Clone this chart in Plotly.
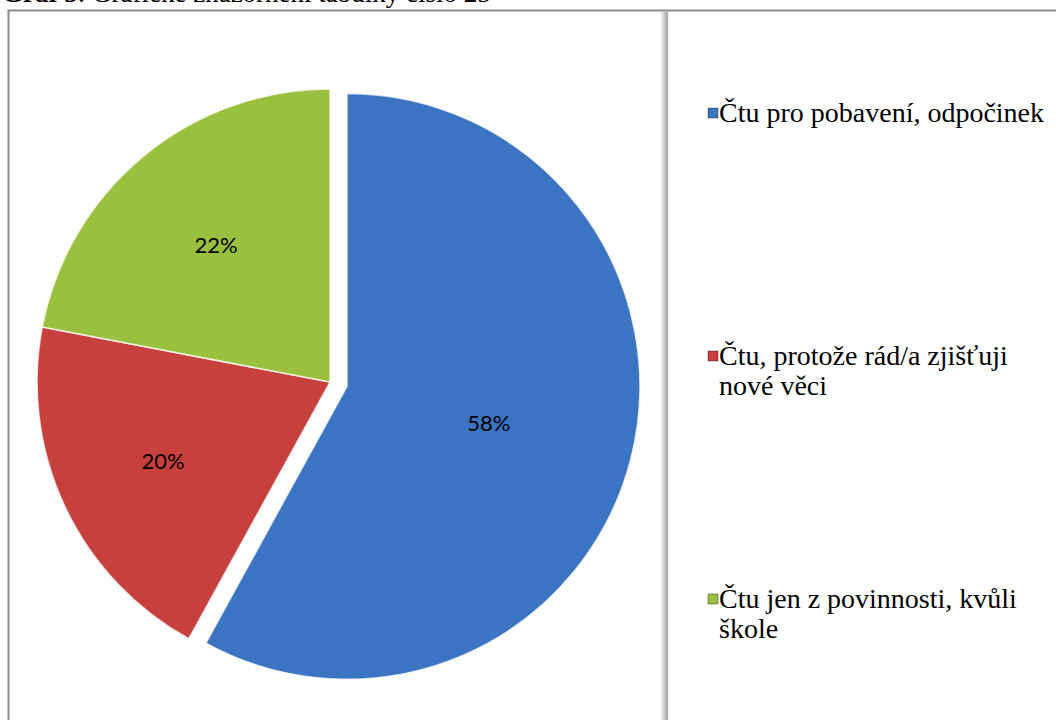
import plotly.graph_objects as go

labels = ["Čtu pro pobavení, odpočinek",
          "Čtu, protože rád/a zjišťuji<br>nové věci",
          "Čtu jen z povinnosti, kvůli<br>škole"]
values = [58, 20, 22]
colors = ["#3A74C2", "#C8403D", "#9BC03F"]
pulls = [0.06, 0, 0]

W, H = 1056, 720
SERIF = "Times New Roman, Liberation Serif, serif"

fig = go.Figure()

fig.add_trace(
    go.Pie(
        labels=labels,
        values=values,
        pull=pulls,
        sort=False,
        direction="clockwise",
        rotation=0,
        marker=dict(colors=colors, line=dict(color="rgba(255,255,255,0.75)", width=1.5)),
        texttemplate="%{percent:.0%}",
        textposition="inside",
        insidetextorientation="horizontal",
        textfont=dict(family="Lato", size=22, color="black"),
        domain=dict(x=[19.5 / W, 640.5 / W], y=[1 - 692.6 / H, 1 - 71.4 / H]),
        showlegend=False,
        hoverinfo="label+percent",
    )
)

# frame and separator shadow
fig.add_shape(type="rect", xref="paper", yref="paper",
              x0=8.5 / W, x1=1.01, y0=-0.01, y1=1 - 10.5 / H,
              line=dict(color="#8c8c8c", width=2), layer="below")
for i, c in enumerate(["#ececec", "#e2e2e2", "#d6d6d6", "#c9c9c9", "#bcbcbc", "#b0b0b0", "#a6a6a6"]):
    x = (661.5 + i) / W
    fig.add_shape(type="line", xref="paper", yref="paper",
                  x0=x, x1=x, y0=-0.01, y1=1 - 12 / H,
                  line=dict(color=c, width=1.2), layer="below")

# legend built from the labels, one annotation per text line
legend_y = [112, 355, 598]
line_gap = 30
for lab, col, ly in zip(labels, colors, legend_y):
    for k, part in enumerate(lab.split("<br>")):
        fig.add_annotation(
            x=717 / W, y=1 - (ly + k * line_gap) / H, xref="paper", yref="paper",
            xanchor="left", yanchor="middle", align="left",
            text=part, showarrow=False,
            font=dict(family=SERIF, size=28, color="black"),
        )
    fig.add_shape(type="rect", xref="paper", yref="paper",
                  x0=708 / W, x1=718 / W, y0=1 - (ly + 6) / H, y1=1 - (ly - 4) / H,
                  fillcolor=col, line=dict(color="rgba(0,0,0,0.35)", width=1))

# title (partly cut off at the top, as in the source)
fig.add_annotation(
    x=0, y=1 - 10 / H, xref="paper", yref="paper",
    xanchor="left", yanchor="bottom", showarrow=False,
    text="<b>Graf 5</b>: Grafické znázornění tabulky číslo 25",
    font=dict(family=SERIF, size=27, color="black"),
)

fig.update_layout(
    width=W, height=H,
    margin=dict(l=0, r=0, t=0, b=0),
    paper_bgcolor="white",
    plot_bgcolor="white",
)

fig.write_html("out.html", config={"displayModeBar": False},
               post_script="document.body.style.margin='0';")
